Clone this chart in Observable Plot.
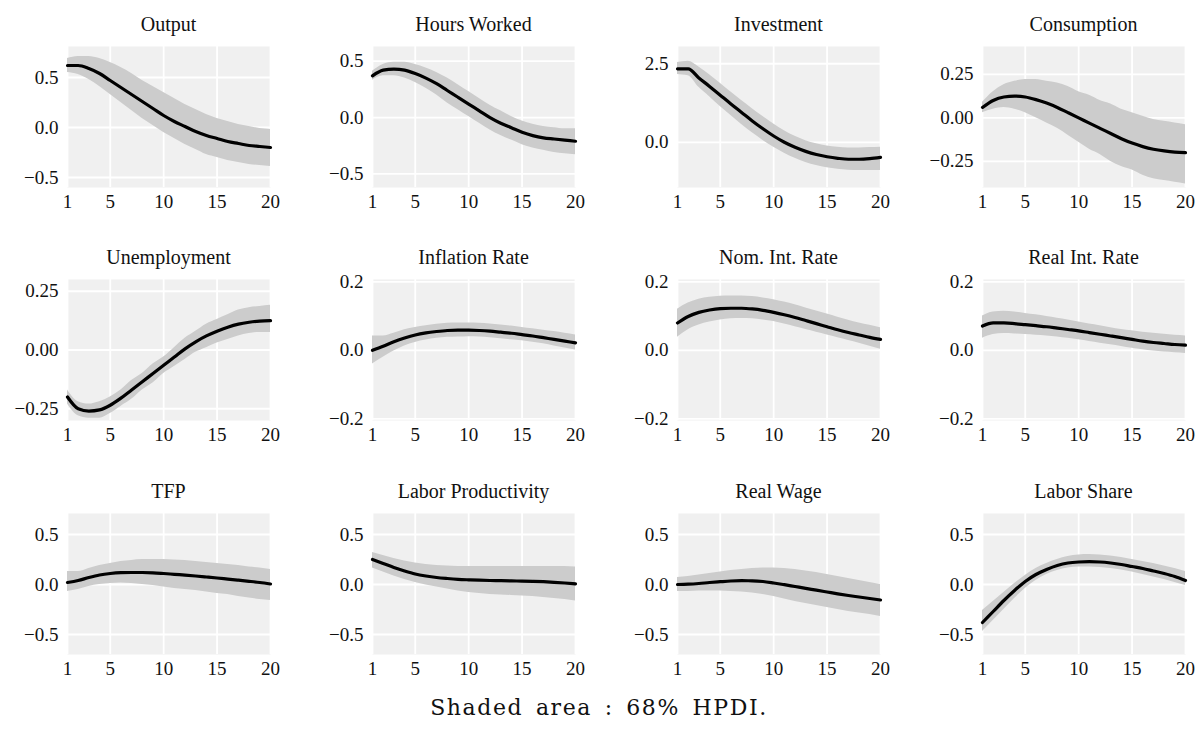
<!DOCTYPE html>
<html><head><meta charset="utf-8">
<script src="https://cdn.jsdelivr.net/npm/d3@7"></script>
<script src="https://cdn.jsdelivr.net/npm/@observablehq/plot@0.6"></script>
<style>
body{margin:0;background:#fff;overflow:hidden;}
#root{position:relative;width:1196px;height:733px;font-family:"Liberation Serif","Times New Roman",Times,serif;color:#111;}
.panel{position:absolute;width:305px;}
.panel svg{max-width:none !important;}
.title{position:absolute;width:203px;text-align:center;font-size:20px;line-height:24px;white-space:nowrap;font-family:"Liberation Serif","Times New Roman",Times,serif;}
.caption{position:absolute;left:0;width:1198px;top:695px;text-align:center;font-size:22px;line-height:26px;letter-spacing:1.6px;word-spacing:4px;font-family:"DejaVu Serif",serif;font-weight:300;}
</style></head><body><div id="root"></div>
<script>
// Horizon (quarters)
const horizon = [1,2,3,4,5,6,7,8,9,10,11,12,13,14,15,16,17,18,19,20];
const xTicks = [1,5,10,15,20];
const titles = ["Output","Hours Worked","Investment","Consumption","Unemployment","Inflation Rate","Nom. Int. Rate","Real Int. Rate","TFP","Labor Productivity","Real Wage","Labor Share"];

const outputMean  = [0.62,0.62,0.59,0.54,0.47,0.40,0.33,0.26,0.19,0.12,0.06,0.01,-0.04,-0.08,-0.11,-0.14,-0.16,-0.18,-0.19,-0.20];
const outputUpper = [0.69,0.71,0.71,0.69,0.65,0.60,0.54,0.47,0.41,0.35,0.29,0.23,0.18,0.13,0.09,0.06,0.03,0.01,-0.01,-0.02];
const outputLower = [0.55,0.53,0.48,0.41,0.33,0.25,0.17,0.09,0.02,-0.05,-0.11,-0.17,-0.22,-0.27,-0.30,-0.33,-0.35,-0.37,-0.38,-0.39];

const hoursMean  = [0.37,0.42,0.43,0.42,0.39,0.35,0.30,0.24,0.18,0.12,0.06,0.00,-0.05,-0.09,-0.13,-0.16,-0.18,-0.19,-0.20,-0.21];
const hoursUpper = [0.41,0.47,0.49,0.49,0.47,0.44,0.40,0.35,0.29,0.23,0.17,0.11,0.06,0.01,-0.03,-0.06,-0.08,-0.09,-0.10,-0.10];
const hoursLower = [0.33,0.37,0.37,0.35,0.31,0.26,0.20,0.13,0.07,0.01,-0.05,-0.11,-0.16,-0.20,-0.24,-0.27,-0.29,-0.31,-0.32,-0.33];

const investMean  = [2.34,2.34,2.05,1.78,1.50,1.22,0.95,0.68,0.43,0.20,0.00,-0.16,-0.29,-0.39,-0.46,-0.51,-0.54,-0.54,-0.52,-0.48];
const investUpper = [2.54,2.58,2.40,2.15,1.88,1.60,1.33,1.07,0.82,0.58,0.37,0.19,0.05,-0.05,-0.12,-0.16,-0.18,-0.18,-0.17,-0.16];
const investLower = [2.16,2.12,1.75,1.45,1.14,0.85,0.57,0.30,0.06,-0.16,-0.35,-0.51,-0.64,-0.74,-0.81,-0.86,-0.89,-0.90,-0.90,-0.90];

const consMean  = [0.06,0.10,0.12,0.125,0.12,0.105,0.085,0.06,0.03,0.00,-0.03,-0.06,-0.09,-0.12,-0.145,-0.165,-0.18,-0.19,-0.197,-0.20];
const consUpper = [0.09,0.15,0.19,0.21,0.22,0.22,0.21,0.20,0.18,0.15,0.13,0.10,0.08,0.05,0.03,0.01,-0.01,-0.02,-0.03,-0.04];
const consLower = [0.03,0.05,0.06,0.05,0.03,0.00,-0.03,-0.06,-0.10,-0.14,-0.18,-0.21,-0.25,-0.28,-0.30,-0.33,-0.35,-0.36,-0.37,-0.38];

const unempMean  = [-0.20,-0.25,-0.26,-0.255,-0.235,-0.205,-0.17,-0.135,-0.10,-0.065,-0.03,0.005,0.035,0.06,0.08,0.097,0.11,0.118,0.123,0.125];
const unempUpper = [-0.17,-0.22,-0.23,-0.22,-0.20,-0.17,-0.13,-0.10,-0.06,-0.03,0.01,0.05,0.08,0.11,0.13,0.15,0.17,0.18,0.185,0.19];
const unempLower = [-0.23,-0.28,-0.29,-0.29,-0.27,-0.24,-0.21,-0.17,-0.14,-0.10,-0.07,-0.04,-0.01,0.01,0.03,0.045,0.06,0.07,0.075,0.075];

const inflMean  = [0.00,0.012,0.025,0.036,0.045,0.051,0.055,0.058,0.059,0.059,0.058,0.056,0.053,0.050,0.046,0.042,0.037,0.032,0.027,0.022];
const inflUpper = [0.042,0.042,0.050,0.060,0.067,0.072,0.076,0.079,0.080,0.080,0.079,0.077,0.074,0.071,0.067,0.063,0.059,0.055,0.050,0.045];
const inflLower = [-0.040,-0.020,-0.002,0.013,0.023,0.030,0.035,0.038,0.039,0.040,0.039,0.037,0.034,0.031,0.028,0.024,0.019,0.013,0.007,0.001];

const nomMean  = [0.080,0.099,0.111,0.118,0.122,0.123,0.123,0.121,0.117,0.111,0.104,0.096,0.087,0.078,0.069,0.060,0.052,0.045,0.038,0.032];
const nomUpper = [0.120,0.138,0.149,0.155,0.158,0.159,0.159,0.157,0.153,0.148,0.141,0.133,0.124,0.115,0.106,0.097,0.088,0.080,0.073,0.066];
const nomLower = [0.038,0.060,0.074,0.083,0.089,0.092,0.093,0.092,0.089,0.084,0.077,0.069,0.061,0.053,0.045,0.037,0.029,0.021,0.012,0.003];

const realMean  = [0.071,0.080,0.080,0.078,0.075,0.072,0.069,0.065,0.061,0.057,0.052,0.047,0.042,0.037,0.032,0.027,0.023,0.020,0.017,0.015];
const realUpper = [0.100,0.112,0.114,0.112,0.108,0.104,0.099,0.094,0.089,0.083,0.077,0.072,0.066,0.061,0.057,0.053,0.050,0.047,0.044,0.042];
const realLower = [0.035,0.046,0.049,0.048,0.046,0.044,0.042,0.039,0.035,0.031,0.026,0.021,0.016,0.011,0.006,0.002,-0.002,-0.005,-0.007,-0.009];

const tfpMean  = [0.02,0.04,0.07,0.095,0.11,0.118,0.12,0.12,0.117,0.11,0.102,0.094,0.085,0.075,0.065,0.054,0.043,0.032,0.02,0.005];
const tfpUpper = [0.13,0.13,0.16,0.19,0.21,0.23,0.24,0.25,0.25,0.25,0.245,0.24,0.23,0.22,0.21,0.20,0.19,0.175,0.165,0.15];
const tfpLower = [-0.07,-0.05,-0.02,0.00,0.01,0.015,0.01,0.00,-0.01,-0.025,-0.04,-0.05,-0.06,-0.075,-0.09,-0.10,-0.12,-0.135,-0.15,-0.16];

const prodMean  = [0.25,0.21,0.17,0.135,0.105,0.085,0.07,0.06,0.052,0.047,0.043,0.04,0.038,0.036,0.034,0.032,0.028,0.022,0.015,0.007];
const prodUpper = [0.32,0.29,0.26,0.235,0.215,0.20,0.19,0.185,0.18,0.18,0.18,0.18,0.18,0.18,0.18,0.18,0.18,0.18,0.18,0.175];
const prodLower = [0.165,0.125,0.085,0.05,0.02,-0.005,-0.025,-0.045,-0.065,-0.08,-0.09,-0.10,-0.105,-0.11,-0.115,-0.12,-0.13,-0.14,-0.15,-0.165];

const wageMean  = [0.00,0.003,0.01,0.02,0.028,0.035,0.038,0.037,0.03,0.015,-0.002,-0.02,-0.038,-0.057,-0.075,-0.093,-0.11,-0.125,-0.14,-0.155];
const wageUpper = [0.07,0.08,0.095,0.11,0.125,0.14,0.15,0.16,0.165,0.165,0.16,0.15,0.135,0.12,0.10,0.08,0.06,0.04,0.02,0.00];
const wageLower = [-0.07,-0.07,-0.065,-0.065,-0.065,-0.07,-0.075,-0.085,-0.1,-0.12,-0.145,-0.17,-0.19,-0.21,-0.23,-0.25,-0.27,-0.285,-0.30,-0.32];

const shareMean  = [-0.38,-0.27,-0.16,-0.06,0.03,0.10,0.15,0.19,0.215,0.225,0.228,0.225,0.215,0.20,0.18,0.16,0.135,0.11,0.08,0.04];
const shareUpper = [-0.26,-0.17,-0.08,0.01,0.09,0.16,0.21,0.25,0.28,0.295,0.30,0.295,0.285,0.27,0.25,0.23,0.21,0.185,0.16,0.13];
const shareLower = [-0.47,-0.36,-0.25,-0.14,-0.04,0.04,0.10,0.14,0.165,0.175,0.175,0.17,0.16,0.145,0.125,0.10,0.075,0.05,0.02,-0.01];

const yTicksA = [-0.5,0,0.5];
const yTicksInv = [0,2.5];
const yTicksQ = [-0.25,0,0.25];
const yTicksR = [-0.2,0,0.2];

const panels = [
  {mean:outputMean, upper:outputUpper, lower:outputLower, domain:[-0.60,0.81], ticks:yTicksA, dec:1},
  {mean:hoursMean, upper:hoursUpper, lower:hoursLower, domain:[-0.62,0.63], ticks:yTicksA, dec:1},
  {mean:investMean, upper:investUpper, lower:investLower, domain:[-1.44,3.05], ticks:yTicksInv, dec:1},
  {mean:consMean, upper:consUpper, lower:consLower, domain:[-0.40,0.41], ticks:yTicksQ, dec:2},
  {mean:unempMean, upper:unempUpper, lower:unempLower, domain:[-0.30,0.30], ticks:yTicksQ, dec:2},
  {mean:inflMean, upper:inflUpper, lower:inflLower, domain:[-0.205,0.207], ticks:yTicksR, dec:1},
  {mean:nomMean, upper:nomUpper, lower:nomLower, domain:[-0.205,0.207], ticks:yTicksR, dec:1},
  {mean:realMean, upper:realUpper, lower:realLower, domain:[-0.205,0.207], ticks:yTicksR, dec:1},
  {mean:tfpMean, upper:tfpUpper, lower:tfpLower, domain:[-0.70,0.71], ticks:yTicksA, dec:1},
  {mean:prodMean, upper:prodUpper, lower:prodLower, domain:[-0.70,0.71], ticks:yTicksA, dec:1},
  {mean:wageMean, upper:wageUpper, lower:wageLower, domain:[-0.70,0.71], ticks:yTicksA, dec:1},
  {mean:shareMean, upper:shareUpper, lower:shareLower, domain:[-0.70,0.71], ticks:yTicksA, dec:1}
];

const root = document.getElementById("root");
const rowTops = [46, 279, 513];
const colW = 305, mL = 67, plotW = 203, plotH = 141, mT = 10, mB = 34;

panels.forEach((p, i) => {
  const col = i % 4, row = Math.floor(i / 4);
  const data = horizon.map((h, k) => ({h, m: p.mean[k], lo: p.lower[k], hi: p.upper[k]}));
  const fmt = d => (d < 0 ? "\u2212" : "") + Math.abs(d).toFixed(p.dec);
  const chart = Plot.plot({
    width: colW, height: plotH + mT + mB,
    marginLeft: mL, marginRight: colW - mL - plotW, marginTop: mT, marginBottom: mB,
    style: {fontFamily: "'Liberation Serif', 'Times New Roman', Times, serif", fontSize: "19px", background: "transparent", color: "#111", overflow: "visible", maxWidth: "none"},
    x: {domain: [1, 20], ticks: xTicks, tickSize: 0, tickPadding: 7, label: null, tickFormat: d => String(d)},
    y: {domain: p.domain, ticks: p.ticks, tickSize: 0, tickPadding: 9, label: null, tickFormat: fmt},
    marks: [
      Plot.frame({fill: "#f0f0f0", stroke: null}),
      Plot.gridX(xTicks, {stroke: "#ffffff", strokeOpacity: 1, strokeWidth: 1.8}),
      Plot.gridY(p.ticks, {stroke: "#ffffff", strokeOpacity: 1, strokeWidth: 1.8}),
      Plot.areaY(data, {x: "h", y1: "lo", y2: "hi", fill: "#cccccc", curve: "monotone-x"}),
      Plot.lineY(data, {x: "h", y: "m", stroke: "#000", strokeWidth: 3.2, curve: "monotone-x"})
    ]
  });
  const wrap = document.createElement("div");
  wrap.className = "panel";
  wrap.style.left = (col * colW) + "px";
  wrap.style.top = (rowTops[row] - mT) + "px";
  wrap.appendChild(chart);
  root.appendChild(wrap);

  const t = document.createElement("div");
  t.className = "title";
  t.textContent = titles[i];
  t.style.left = (col * colW + mL) + "px";
  t.style.top = (rowTops[row] - 34) + "px";
  root.appendChild(t);
});

const cap = document.createElement("div");
cap.className = "caption";
cap.textContent = "Shaded area : 68% HPDI.";
root.appendChild(cap);
</script>
</body></html>
